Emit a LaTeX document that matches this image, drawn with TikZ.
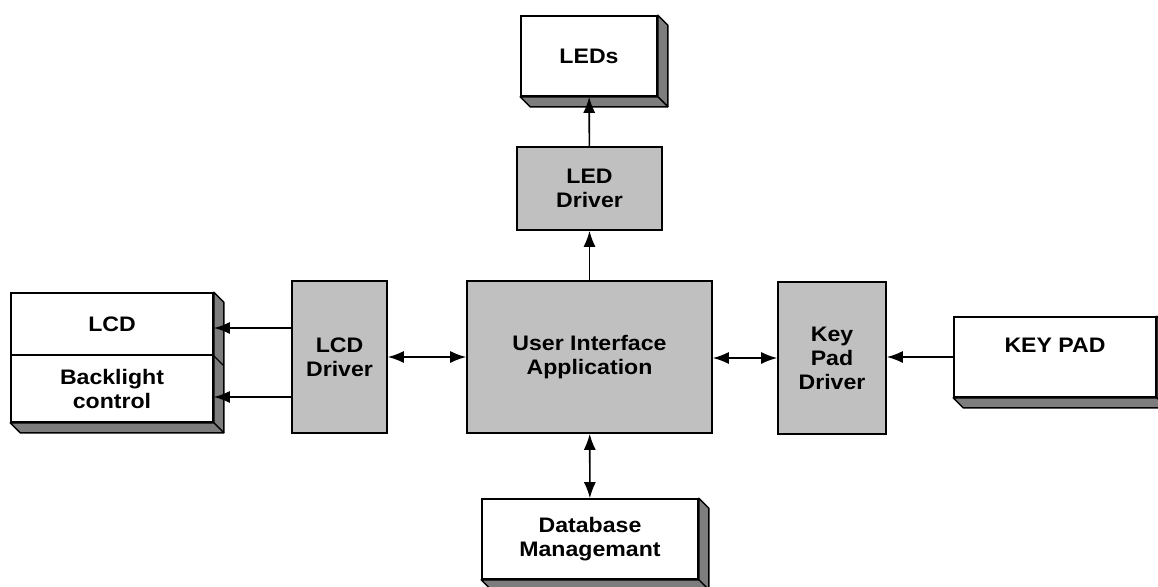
\documentclass[tikz,border=0pt]{standalone}
\usepackage{fontspec}
\setmainfont{Liberation Sans}[FakeStretch=1.1]
\usetikzlibrary{arrows.meta,calc}
\definecolor{cajagris}{RGB}{192,192,192}
\definecolor{sombra}{RGB}{125,125,125}
\tikzset{
  caja/.style={draw, line width=1.6pt, fill=white, align=center, inner sep=0pt,
    font=\fontsize{21}{24}\selectfont\bfseries},
  driver/.style={caja, fill=cajagris},
  cara/.style={draw, line width=1.4pt, fill=sombra, line join=round},
  flecha/.style={line width=1.6pt, -{Latex[length=16pt,width=12pt]}},
  doble/.style={line width=1.6pt, {Latex[length=16pt,width=12pt]}-{Latex[length=16pt,width=12pt]}}
}
\begin{document}
\begin{tikzpicture}[x=1pt,y=-1pt]
    \useasboundingbox (0,0) rectangle (1158,586);

    % Bloques blancos
    \node[caja, minimum width=136pt, minimum height=80pt] (leds) at (589,56) {LEDs};
    \node[caja, minimum width=202pt, minimum height=62pt] (lcd) at (112,324) {LCD};
    \node[caja, minimum width=202pt, minimum height=67pt] (backlight) at (112,388.5) {Backlight\\control};
    \node[caja, minimum width=202pt, minimum height=80pt] (keypad) at (1055,357) {KEY PAD\\~};
    \node[caja, minimum width=216pt, minimum height=80pt] (db) at (590,539) {Database\\Managemant};

    % Bloques grises
    \node[driver, minimum width=145pt, minimum height=83pt] (leddrv) at (589.5,188.5) {LED\\Driver};
    \node[driver, minimum width=245pt, minimum height=152pt] (ui) at (589.5,357) {User Interface\\Application};
    \node[driver, minimum width=95pt, minimum height=152pt] (lcddrv) at (339.5,357) {LCD\\Driver};
    \node[driver, minimum width=108pt, minimum height=152pt] (kpdrv) at (832,358) {Key\\Pad\\Driver};

    % Caras en relieve
    \foreach \t/\b in {leds/leds, lcd/backlight, keypad/keypad, db/db} {
      \draw[cara] (\t.north east) -- ++(10,10) -- ($(\b.south east)+(10,10)$) -- (\b.south east) -- cycle;
      \draw[cara] (\b.south west) -- (\b.south east) -- ++(10,10) -- ($(\b.south west)+(10,10)$) -- cycle;
    }
    \draw[line width=1.4pt] (lcd.south east) -- ++(10,10);

    % Flechas
    \draw[flecha] (leddrv) -- (leds);
    \draw[flecha] (ui) -- (leddrv);
    \draw[flecha] ([yshift=-4pt]lcddrv.west |- lcd.east) -- ([yshift=-4pt]lcd.east);
    \draw[flecha] ([yshift=-8.5pt]lcddrv.west |- backlight.east) -- ([yshift=-8.5pt]backlight.east);
    \draw[doble] (lcddrv.east) -- (ui.west);
    \draw[doble] (ui.east |- kpdrv.west) -- (kpdrv.west);
    \draw[flecha] (keypad.west) -- (kpdrv.east |- keypad.west);
    \draw[doble] (ui) -- (db);

\end{tikzpicture}
\end{document}
